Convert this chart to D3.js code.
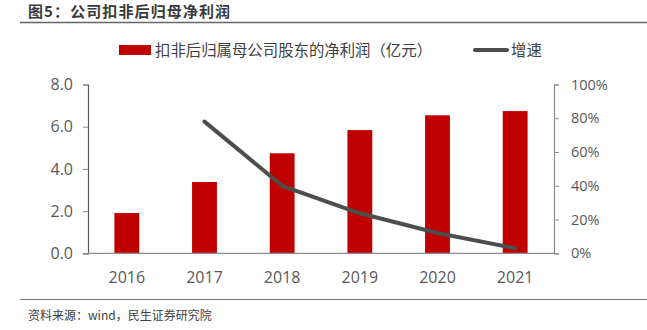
<!DOCTYPE html>
<html>
<head>
<meta charset="utf-8">
<script src="https://cdn.jsdelivr.net/npm/d3@7"></script>
<style>
  html, body { margin: 0; padding: 0; background: #fff; }
  svg { display: block; font-family: "Noto Sans CJK SC", "Open Sans", sans-serif; }
</style>
</head>
<body>
<svg id="chart" width="647" height="330"></svg>
<script>
// Annual figures
const years = ["2016", "2017", "2018", "2019", "2020", "2021"];
const profit = [1.91, 3.38, 4.74, 5.84, 6.54, 6.74];        // 亿元
const growth = [null, 0.78, 0.40, 0.237, 0.12, 0.03];       // 增速
const leftTicks = [0, 2, 4, 6, 8];
const rightTicks = [0, 0.2, 0.4, 0.6, 0.8, 1.0];

const titleText = "图5：公司扣非后归母净利润";
const sourceText = "资料来源：wind，民生证券研究院";
const barName = "扣非后归属母公司股东的净利润（亿元）";
const lineName = "增速";

const svg = d3.select("#chart");
const plot = { left: 88, right: 554, top: 84.5, bottom: 253.3 };

const x = d3.scaleBand().domain(years).range([plot.left, plot.right]).paddingInner(0.68).paddingOuter(0.34);
const yL = d3.scaleLinear().domain([0, 8]).range([plot.bottom, plot.top]);
const yR = d3.scaleLinear().domain([0, 1]).range([plot.bottom, plot.top]);

// Header and footer
svg.append("text").attr("x", 28).attr("y", 17)
  .attr("font-size", 15).attr("font-weight", "bold").attr("letter-spacing", 1.1)
  .attr("fill", "#3a3a3a")
  .text(titleText);
svg.append("line").attr("x1", 20).attr("x2", 647).attr("y1", 22.5).attr("y2", 22.5)
  .attr("stroke", "#666").attr("stroke-width", 1.5);
svg.append("line").attr("x1", 20).attr("x2", 647).attr("y1", 299.5).attr("y2", 299.5)
  .attr("stroke", "#777").attr("stroke-width", 1);
svg.append("text").attr("x", 28).attr("y", 320)
  .attr("font-size", 12).attr("fill", "#404040")
  .text(sourceText);

// Bars
svg.append("g").selectAll("rect").data(years).join("rect")
  .attr("x", d => x(d))
  .attr("width", x.bandwidth())
  .attr("y", (d, i) => yL(profit[i]))
  .attr("height", (d, i) => yL(0) - yL(profit[i]))
  .attr("fill", "#C00000");

// Axes
const axL = svg.append("g").attr("transform", `translate(${plot.left},0)`)
  .call(d3.axisLeft(yL).tickValues(leftTicks).tickFormat(d3.format(".1f")).tickSize(5).tickPadding(10));
const axR = svg.append("g").attr("transform", `translate(${plot.right},0)`)
  .call(d3.axisRight(yR).tickValues(rightTicks).tickFormat(d3.format(".0%")).tickSize(5).tickPadding(12));
const axB = svg.append("g").attr("transform", `translate(0,${plot.bottom})`)
  .call(d3.axisBottom(x).tickSize(0).tickPadding(18));

[axL, axR, axB].forEach(g => {
  g.select(".domain").attr("stroke", "#8c8c8c").attr("stroke-width", 1.2);
  g.selectAll(".tick line").attr("stroke", "#8c8c8c");
  g.selectAll(".tick text").attr("fill", "#595959").attr("font-size", 16)
    .attr("font-family", "'Open Sans', 'Noto Sans', sans-serif");
});
axR.selectAll(".tick text").attr("font-size", 14.5);
axL.select(".domain").attr("stroke", "#595959");
axB.select(".domain").attr("d", `M${plot.left},0H${plot.right}`);

// Growth line
const pts = years.map((d, i) => [x(d) + x.bandwidth() / 2, growth[i]]).filter(p => p[1] != null);
svg.append("path")
  .attr("d", d3.line().x(p => p[0]).y(p => yR(p[1]))(pts))
  .attr("fill", "none").attr("stroke", "#4d4d4d").attr("stroke-width", 4)
  .attr("stroke-linecap", "round").attr("stroke-linejoin", "round");

// Legend
const lg = svg.append("g");
lg.append("rect").attr("x", 119).attr("y", 45).attr("width", 32).attr("height", 10).attr("fill", "#C00000");
lg.append("text").attr("x", 155).attr("y", 56).attr("font-size", 15.4).attr("fill", "#404040").text(barName);
lg.append("line").attr("x1", 475).attr("x2", 507).attr("y1", 50).attr("y2", 50)
  .attr("stroke", "#4d4d4d").attr("stroke-width", 4).attr("stroke-linecap", "round");
lg.append("text").attr("x", 511).attr("y", 56).attr("font-size", 15.4).attr("fill", "#404040").text(lineName);
</script>
</body>
</html>
